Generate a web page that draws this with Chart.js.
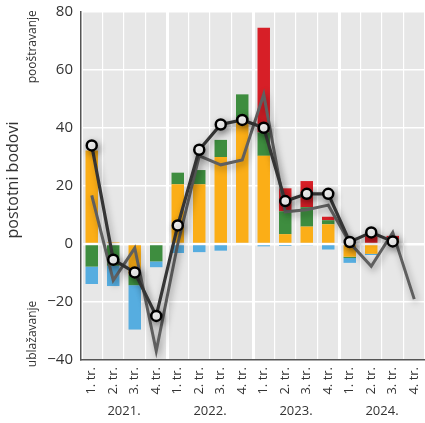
<!DOCTYPE html>
<html>
<head>
<meta charset="utf-8">
<script src="https://cdn.jsdelivr.net/npm/chart.js@4.4.1/dist/chart.umd.min.js"></script>
<style>
html, body { margin: 0; padding: 0; background: #fff; }
#wrap { width: 425px; height: 423px; position: relative; }
</style>
</head>
<body>
<div id="wrap"><canvas id="c"></canvas></div>
<script>
// categories
var quarters = ['1. tr.', '2. tr.', '3. tr.', '4. tr.',
                '1. tr.', '2. tr.', '3. tr.', '4. tr.',
                '1. tr.', '2. tr.', '3. tr.', '4. tr.',
                '1. tr.', '2. tr.', '3. tr.', '4. tr.'];
var years = ['2021.', '2022.', '2023.', '2024.'];
var yTicks = [-40, -20, 0, 20, 40, 60, 80];

// stacked contributions
var orange = [32.2, 0.6, -10.5, 0.5, 20.6, 20.6, 30, 42, 30.4, 3.4, 6, 6.8, -4.4, -3.4, 1.3, null];
var green  = [-7.8, -7.5, -3.7, -6, 4, 4.9, 5.9, 9.6, 8.1, 7.9, 6.7, 1.4, -0.4, 0, 0.3, null];
var blue   = [-6, -7, -15.3, -2, -3.1, -2.8, -2.3, -0.4, -0.8, -0.7, -0.5, -1.9, -1.7, -0.4, 0, null];
var red    = [0, 0, 0, 0, 0, 0, 0, 0, 36.1, 7.9, 9, 1.2, 0.5, 2.7, 1.2, null];

// lines
var total = [34, -5.4, -9.8, -24.8, 6.4, 32.5, 41.2, 42.8, 40.1, 14.8, 17.3, 17.3, 0.7, 4, 0.9, null];
var other = [16.8, -12.5, -1.4, -36.9, 0, 30.4, 27.3, 29, 51.6, 11.1, 11.8, 13.4, 0.4, -7.7, 4, -19];

var FONT = '"Open Sans", "Noto Sans", sans-serif';

var bgPlugin = {
    id: 'bg',
    beforeDraw: function (chart) {
        var a = chart.chartArea, ctx = chart.ctx;
        ctx.save();
        ctx.fillStyle = '#e7e7e7';
        ctx.fillRect(a.left, a.top, a.right - a.left, a.bottom - a.top);
        ctx.restore();
    }
};

// soft shadow under the lines
var shadowPlugin = {
    id: 'lineShadow',
    beforeDatasetDraw: function (chart, args) {
        if (chart.data.datasets[args.index].type !== 'line') return;
        var ctx = chart.ctx;
        ctx.save();
        ctx.shadowColor = 'rgba(0,0,0,0.35)';
        ctx.shadowBlur = 7;
        ctx.shadowOffsetX = 2;
        ctx.shadowOffsetY = 3;
    },
    afterDatasetDraw: function (chart, args) {
        if (chart.data.datasets[args.index].type !== 'line') return;
        chart.ctx.restore();
    }
};

var textPlugin = {
    id: 'texts',
    afterDraw: function (chart) {
        var ctx = chart.ctx, xs = chart.scales.x, ys = chart.scales.y;
        ctx.save();
        ctx.fillStyle = '#333';
        ctx.textAlign = 'center';
        ctx.textBaseline = 'middle';
        // axis title
        ctx.save();
        ctx.font = '16px ' + FONT;
        ctx.translate(13, (ys.top + ys.bottom) / 2 - 6);
        ctx.rotate(-Math.PI / 2);
        ctx.fillText('postotni bodovi', 0, 0);
        ctx.restore();
        // direction notes
        ctx.font = '12px ' + FONT;
        [['pooštravanje', 68], ['ublažavanje', -31]].forEach(function (n) {
            ctx.save();
            ctx.translate(33, ys.getPixelForValue(n[1]));
            ctx.rotate(-Math.PI / 2);
            ctx.fillText(n[0], 0, 0);
            ctx.restore();
        });
        // year labels
        ctx.font = '13px ' + FONT;
        years.forEach(function (y, i) {
            var x = (xs.getPixelForValue(i * 4) + xs.getPixelForValue(i * 4 + 3)) / 2;
            ctx.fillText(y, x, 411);
        });
        ctx.restore();
    }
};

function barSet(data, color) {
    return { type: 'bar', data: data, backgroundColor: color, stack: 's',
             barPercentage: 0.58, categoryPercentage: 1, order: 3 };
}

new Chart(document.getElementById('c'), {
    data: {
        labels: quarters,
        datasets: [
            { type: 'line', data: total, borderColor: '#353535', borderWidth: 3.2,
              pointRadius: 5, pointBackgroundColor: '#fff', pointBorderColor: '#000',
              pointBorderWidth: 2.5, tension: 0, order: 1, stack: 'l1' },
            { type: 'line', data: other, borderColor: '#5f5f5f', borderWidth: 3,
              pointRadius: 0, tension: 0, order: 2, stack: 'l2' },
            barSet(orange, '#fbae17'),
            barSet(green, '#3e8d3f'),
            barSet(blue, '#56ade0'),
            barSet(red, '#d71f27')
        ]
    },
    options: {
        responsive: true,
        maintainAspectRatio: false,
        animation: false,
        layout: { autoPadding: false, padding: { top: 12, right: 0, bottom: 0, left: 0 } },
        plugins: { legend: { display: false }, tooltip: { enabled: false } },
        scales: {
            x: {
                stacked: true,
                grid: { offset: true, color: '#fff', drawTicks: false,
                        lineWidth: function (c) { return c.index % 4 === 0 ? 3 : 1.2; } },
                border: { color: '#555', width: 1.5 },
                ticks: { autoSkip: false, maxRotation: 90, minRotation: 90, padding: 7,
                         color: '#333', font: { family: FONT, size: 13 } },
                afterFit: function (s) {
                    s.height = 63; s.paddingLeft = 0; s.paddingRight = 0;
                    s.paddingTop = 0; s.paddingBottom = 0;
                }
            },
            y: {
                stacked: true,
                min: -40, max: 80,
                afterBuildTicks: function (s) { s.ticks = yTicks.map(function (v) { return { value: v }; }); },
                grid: { color: '#fff', drawTicks: false,
                        lineWidth: function (c) { return c.tick && c.tick.value === 0 ? 2.5 : 1.5; } },
                border: { color: '#555', width: 1.5 },
                ticks: { padding: 8, color: '#333', font: { family: FONT, size: 15 },
                         callback: function (v) { return v < 0 ? '\u2212' + Math.abs(v) : v; } },
                afterFit: function (s) { s.width = 81; s.paddingTop = 0; s.paddingBottom = 0; }
            }
        }
    },
    plugins: [bgPlugin, shadowPlugin, textPlugin]
});
</script>
</body>
</html>
